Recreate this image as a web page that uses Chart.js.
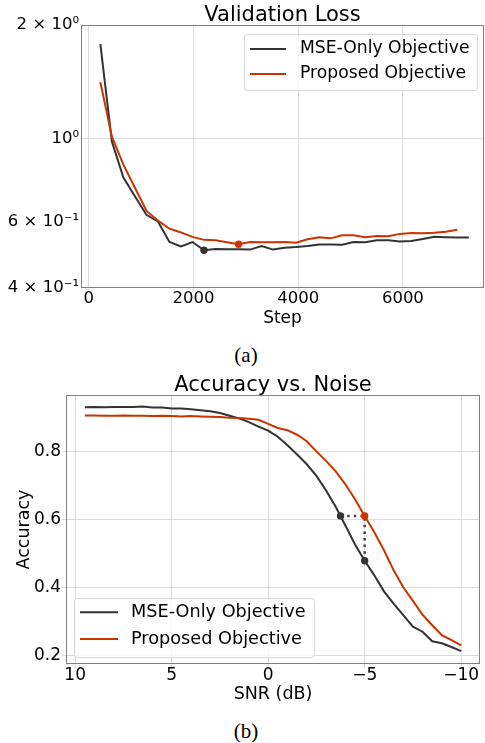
<!DOCTYPE html>
<html>
<head>
<meta charset="utf-8">
<script src="https://cdn.jsdelivr.net/npm/chart.js@4.4.1/dist/chart.umd.min.js"></script>
<style>
  body { margin: 0; background: #fff; width: 485px; height: 743px; overflow: hidden; position: relative; }
  canvas { position: absolute; left: 0; }
  #lossChart { top: 0; }
  #accChart { top: 365px; }
  .cap { position: absolute; left: 146px; width: 200px; text-align: center; font: 21px "Liberation Serif", serif; line-height: 24px; color: #000; }
</style>
</head>
<body>
<canvas id="lossChart" width="485" height="330"></canvas>
<div class="cap" style="top:343px">(a)</div>
<canvas id="accChart" width="485" height="345"></canvas>
<div class="cap" style="top:719px">(b)</div>
<script>
// (a) validation loss
const stepsMse = [220, 440, 660, 880, 1100, 1320, 1540, 1760, 1980, 2200, 2420, 2640, 2860, 3080, 3300, 3520, 3740,
  3960, 4180, 4400, 4620, 4840, 5060, 5280, 5500, 5720, 5940, 6160, 6380, 6600, 6820, 7040, 7260];
const stepsProp = [220, 440, 660, 880, 1100, 1320, 1540, 1760, 1980, 2200, 2420, 2640, 2860, 3080, 3300, 3520, 3740,
  3960, 4180, 4400, 4620, 4840, 5060, 5280, 5500, 5720, 5940, 6160, 6380, 6600, 6820, 7040];
const lossMse = [1.78, 0.98, 0.786, 0.701, 0.626, 0.601, 0.530, 0.516, 0.530, 0.504, 0.508, 0.507, 0.507, 0.506,
  0.517, 0.506, 0.512, 0.514, 0.517, 0.522, 0.522, 0.521, 0.530, 0.529, 0.536, 0.536, 0.532, 0.533, 0.540, 0.547,
  0.546, 0.545, 0.545];
const lossProp = [1.41, 1.01, 0.851, 0.739, 0.642, 0.604, 0.575, 0.562, 0.547, 0.537, 0.536, 0.529, 0.523, 0.530,
  0.529, 0.529, 0.530, 0.528, 0.539, 0.546, 0.542, 0.552, 0.552, 0.546, 0.550, 0.549, 0.557, 0.560, 0.559, 0.561,
  0.564, 0.571];
const stepTicks = [0, 2000, 4000, 6000];
const lossTicks = [0.4, 0.6, 1, 2];
const lossTickLabels = ['4 × 10⁻¹', '6 × 10⁻¹', '10⁰', '2 × 10⁰'];

// (b) accuracy vs noise
const snr = [9.5, 9, 8.5, 8, 7.5, 7, 6.5, 6, 5.5, 5, 4.5, 4, 3.5, 3, 2.5, 2, 1.5, 1, 0.5, 0,
  -0.5, -1, -1.5, -2, -2.5, -3, -3.5, -4, -4.5, -5, -5.5, -6, -6.5, -7, -7.5, -8, -8.5, -9, -9.5, -10];
const accMse = [0.930, 0.931, 0.930, 0.931, 0.931, 0.931, 0.932, 0.929, 0.929, 0.926, 0.926, 0.924, 0.921, 0.918,
  0.913, 0.905, 0.897, 0.886, 0.873, 0.861, 0.843, 0.818, 0.791, 0.762, 0.728, 0.685, 0.637, 0.582, 0.526, 0.478,
  0.435, 0.388, 0.352, 0.318, 0.284, 0.269, 0.241, 0.235, 0.224, 0.212];
const accProp = [0.906, 0.906, 0.905, 0.905, 0.906, 0.905, 0.905, 0.904, 0.905, 0.904, 0.903, 0.904, 0.903, 0.902,
  0.901, 0.899, 0.898, 0.896, 0.893, 0.881, 0.869, 0.862, 0.849, 0.830, 0.800, 0.772, 0.741, 0.703, 0.659, 0.610,
  0.562, 0.509, 0.450, 0.400, 0.360, 0.319, 0.288, 0.259, 0.244, 0.229];
const snrTicks = [10, 5, 0, -5, -10];
const snrTickLabels = ['10', '5', '0', '−5', '−10'];
const accTicks = [0.2, 0.4, 0.6, 0.8];
const accTickLabels = ['0.2', '0.4', '0.6', '0.8'];
// MSE-only reaching the proposed model's -5 dB accuracy, and both at -5 dB
const markSnr = [-3.75, -5, -5];
const markAcc = [0.61, 0.61, 0.478];

const DARK = '#333333';
const RED = '#cc3300';
const GRID = '#dcdcdc';

Chart.defaults.font.family = '"DejaVu Sans"';
Chart.defaults.color = '#000';

function xy(xs, ys) { return xs.map((x, i) => ({ x: x, y: ys[i] })); }
function argMin(arr) { return arr.indexOf(Math.min(...arr)); }
function fixedTicks(list) { return s => { s.ticks = list.map(v => ({ value: v })); }; }

// frame, title and legend drawn matplotlib-style
const decor = {
  id: 'decor',
  afterDraw(chart, args, o) {
    const { ctx, chartArea: a } = chart;
    ctx.save();
    ctx.strokeStyle = '#808080';
    ctx.lineWidth = 1;
    ctx.strokeRect(a.left + 0.5, a.top + 0.5, a.right - a.left - 1, a.bottom - a.top - 1);

    ctx.fillStyle = '#000';
    ctx.font = o.titleSize + 'px "DejaVu Sans"';
    ctx.textAlign = 'center';
    ctx.textBaseline = 'alphabetic';
    ctx.fillText(o.title, (a.left + a.right) / 2, o.titleY);

    const lg = o.legend;
    ctx.beginPath();
    ctx.roundRect(lg.x + 0.5, lg.y + 0.5, lg.w, lg.h, 3);
    ctx.fillStyle = 'rgba(255,255,255,0.8)';
    ctx.fill();
    ctx.strokeStyle = '#d6d6d6';
    ctx.stroke();
    const items = chart.data.datasets.filter(d => d.label);
    items.forEach((d, i) => {
      const y = lg.y + lg.rows[i];
      ctx.strokeStyle = d.borderColor;
      ctx.lineWidth = 2;
      ctx.beginPath();
      ctx.moveTo(lg.x + 6, y);
      ctx.lineTo(lg.x + lg.lineEnd, y);
      ctx.stroke();
      ctx.fillStyle = '#000';
      ctx.font = lg.size + 'px "DejaVu Sans"';
      ctx.textAlign = 'left';
      ctx.textBaseline = 'middle';
      ctx.fillText(d.label, lg.x + lg.textX, y);
    });
    ctx.restore();
  }
};

const minMse = argMin(lossMse);
const minProp = argMin(lossProp);

new Chart(document.getElementById('lossChart'), {
  type: 'line',
  data: {
    datasets: [{
      label: 'MSE-Only Objective',
      data: xy(stepsMse, lossMse),
      borderColor: DARK,
      backgroundColor: DARK,
      borderWidth: 2,
      pointRadius: c => c.dataIndex === minMse ? 3.7 : 0,
      pointBorderWidth: 0,
      order: 2
    }, {
      label: 'Proposed Objective',
      data: xy(stepsProp, lossProp),
      borderColor: RED,
      backgroundColor: RED,
      borderWidth: 2,
      pointRadius: c => c.dataIndex === minProp ? 3.7 : 0,
      pointBorderWidth: 0,
      order: 1
    }]
  },
  options: {
    responsive: false,
    animation: false,
    devicePixelRatio: 1,
    layout: { padding: { top: 25, left: 0, right: 1, bottom: 0 } },
    plugins: {
      legend: { display: false },
      tooltip: { enabled: false },
      decor: {
        title: 'Validation Loss', titleSize: 21, titleY: 21,
        legend: { x: 244, y: 34, w: 233, h: 56, rows: [15, 40], lineEnd: 42, textX: 56, size: 17.2 }
      }
    },
    scales: {
      x: {
        type: 'linear', min: -150, max: 7550,
        afterBuildTicks: fixedTicks(stepTicks),
        afterFit: s => { s.height = 42; },
        ticks: { autoSkip: false, maxRotation: 0, padding: -1.5, font: { size: 16.5, lineHeight: 1 },
          callback: v => String(v) },
        grid: { color: GRID, tickLength: 4 },
        border: { display: false },
        title: { display: true, text: 'Step', font: { size: 17, lineHeight: 1.2 }, padding: { top: 0, bottom: 1 } }
      },
      y: {
        type: 'logarithmic', min: 0.4, max: 2,
        afterBuildTicks: fixedTicks(lossTicks),
        afterFit: s => { s.width = 81; },
        ticks: { autoSkip: false, padding: 2, font: { size: 16.5 }, callback: (v, i) => lossTickLabels[i] },
        grid: { drawTicks: false, color: c => (c.tick && c.tick.value === 1) ? GRID : 'rgba(0,0,0,0)' },
        border: { display: false }
      }
    }
  },
  plugins: [decor]
});

new Chart(document.getElementById('accChart'), {
  type: 'line',
  data: {
    datasets: [{
      label: 'MSE-Only Objective',
      data: xy(snr, accMse),
      borderColor: DARK,
      borderWidth: 2,
      pointRadius: 0,
      order: 3
    }, {
      label: 'Proposed Objective',
      data: xy(snr, accProp),
      borderColor: RED,
      borderWidth: 2,
      pointRadius: 0,
      order: 2
    }, {
      data: xy(markSnr, markAcc),
      borderColor: '#444444',
      borderWidth: 2.5,
      borderDash: [2.5, 4.1],
      pointRadius: 0,
      order: 1
    }, {
      data: xy(markSnr, markAcc),
      showLine: false,
      pointRadius: 3.7,
      pointBorderWidth: 0,
      pointBackgroundColor: [DARK, RED, DARK],
      order: 0
    }]
  },
  options: {
    responsive: false,
    animation: false,
    devicePixelRatio: 1,
    layout: { padding: { top: 30, left: 0, right: 5, bottom: 0 } },
    plugins: {
      legend: { display: false },
      tooltip: { enabled: false },
      decor: {
        title: 'Accuracy vs. Noise', titleSize: 21, titleY: 26,
        legend: { x: 74, y: 233, w: 240, h: 59, rows: [14.3, 41], lineEnd: 44, textX: 57, size: 17.7 }
      }
    },
    scales: {
      x: {
        type: 'linear', reverse: true, min: -10.975, max: 10.475,
        afterBuildTicks: fixedTicks(snrTicks),
        afterFit: s => { s.height = 46; },
        ticks: { autoSkip: false, maxRotation: 0, padding: -0.5, font: { size: 17, lineHeight: 1 },
          callback: (v, i) => snrTickLabels[i] },
        grid: { color: GRID, tickLength: 4 },
        border: { display: false },
        title: { display: true, text: 'SNR (dB)', font: { size: 17.5, lineHeight: 1.2 }, padding: { top: 0, bottom: 5 } }
      },
      y: {
        type: 'linear', min: 0.174, max: 0.966,
        afterBuildTicks: fixedTicks(accTicks),
        afterFit: s => { s.width = 66; },
        ticks: { autoSkip: false, padding: 1, font: { size: 17 }, callback: (v, i) => accTickLabels[i] },
        grid: { color: GRID, tickLength: 4 },
        border: { display: false },
        title: { display: true, text: 'Accuracy', font: { size: 17.5, lineHeight: 1.2 }, padding: { top: 14, bottom: 0 } }
      }
    }
  },
  plugins: [decor]
});
</script>
</body>
</html>
